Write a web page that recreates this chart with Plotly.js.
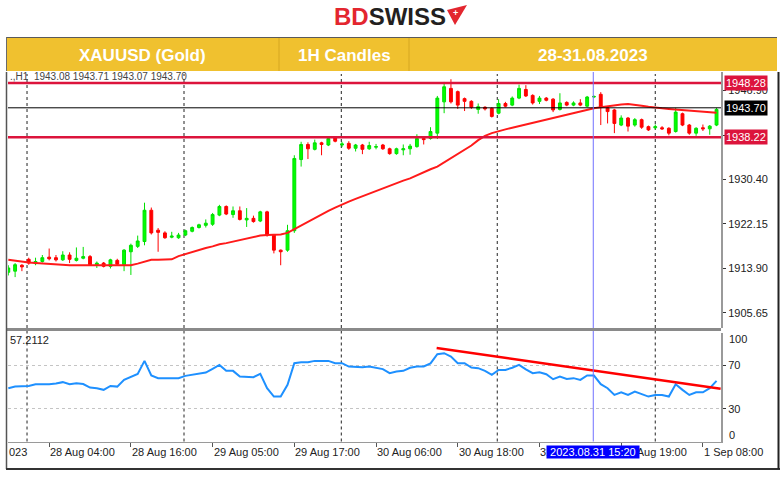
<!DOCTYPE html>
<html><head><meta charset="utf-8">
<script src="https://cdn.plot.ly/plotly-3.0.1.min.js"></script>
<style>html,body{margin:0;padding:0;background:#fff}#chart{width:780px;height:477px}</style>
</head><body><div id="chart"></div>
<script>
// ---------- DATA ----------
const open  = [1913.2,1913.4,1914.5,1915.6,1914.8,1915.2,1916.0,1915.9,1915.5,1916.4,1915.4,1915.8,1916.1,1914.6,1914.9,1914.3,1915.4,1914.6,1917.0,1918.0,1918.9,1924.7,1921.0,1920.5,1919.7,1919.6,1920.1,1920.8,1921.5,1921.9,1922.1,1923.8,1925.4,1923.9,1924.6,1922.9,1923.2,1922.7,1924.4,1920.1,1917.3,1917.3,1920.9,1934.1,1936.9,1936.0,1937.2,1936.8,1938.1,1936.8,1937.1,1936.2,1936.8,1936.1,1936.4,1936.8,1936.1,1935.2,1935.9,1936.1,1936.5,1938.0,1938.0,1939.0,1944.8,1947.3,1946.7,1945.4,1944.9,1943.4,1943.8,1943.6,1942.7,1944.5,1944.2,1945.5,1947.1,1946.0,1944.9,1945.5,1945.3,1943.4,1944.7,1944.2,1944.6,1944.0,1945.7,1946.2,1943.7,1943.3,1940.5,1941.8,1940.5,1941.5,1940.2,1940.0,1940.0,1939.9,1939.3,1942.6,1940.5,1939.0,1940.0,1939.8,1940.5];
const high  = [1914.5,1914.9,1914.7,1915.9,1915.9,1916.4,1917.6,1916.4,1917.1,1916.9,1917.8,1917.9,1916.4,1915.2,1915.1,1915.7,1915.7,1917.5,1918.5,1920.0,1926.1,1925.2,1921.4,1920.8,1920.7,1920.5,1921.1,1921.7,1922.2,1923.0,1924.2,1925.7,1925.6,1925.4,1925.4,1925.1,1923.7,1924.6,1924.6,1920.3,1917.4,1922.0,1934.9,1937.4,1937.3,1937.8,1937.4,1938.4,1938.4,1937.4,1937.5,1937.0,1937.0,1937.4,1937.0,1937.0,1936.3,1936.3,1936.9,1937.0,1938.8,1938.3,1940.1,1945.9,1948.5,1949.0,1946.9,1945.6,1945.1,1944.5,1944.0,1943.8,1945.3,1944.8,1945.8,1948.0,1947.9,1946.2,1945.9,1945.7,1945.5,1946.4,1944.9,1944.9,1945.3,1945.9,1946.0,1946.6,1943.9,1943.5,1942.3,1942.0,1941.8,1941.7,1940.4,1940.6,1940.3,1940.1,1943.7,1942.8,1940.7,1940.1,1940.6,1940.5,1943.7];
const low   = [1912.6,1912.3,1913.4,1914.6,1914.5,1915.0,1915.4,1915.2,1915.3,1914.9,1915.2,1915.6,1914.4,1914.0,1914.1,1913.9,1914.5,1913.4,1912.7,1917.7,1918.2,1920.2,1917.0,1919.4,1919.5,1919.4,1919.9,1920.6,1921.3,1921.5,1921.8,1923.6,1923.8,1923.3,1922.8,1921.6,1922.4,1922.5,1919.8,1916.7,1914.5,1917.0,1920.5,1932.8,1934.2,1935.8,1934.9,1936.6,1937.3,1936.4,1935.9,1935.6,1935.1,1935.9,1936.0,1935.9,1935.0,1935.0,1934.9,1935.0,1936.3,1936.9,1937.8,1937.9,1942.7,1944.5,1943.5,1943.1,1943.5,1942.6,1943.2,1941.9,1942.5,1943.8,1944.0,1945.3,1945.7,1944.3,1944.4,1944.9,1942.9,1943.2,1944.0,1944.0,1944.0,1943.8,1945.5,1940.5,1940.8,1939.0,1940.3,1939.3,1940.2,1939.8,1939.4,1939.7,1939.6,1938.6,1939.1,1940.3,1938.7,1938.5,1939.4,1938.7,1940.3];
const close = [1914.0,1914.6,1914.2,1914.9,1915.2,1915.9,1915.7,1915.5,1916.4,1915.6,1915.8,1916.1,1914.6,1914.9,1914.3,1915.5,1914.7,1917.3,1918.2,1919.0,1924.7,1920.5,1920.6,1919.6,1919.9,1920.1,1920.9,1921.5,1922.0,1922.3,1923.9,1925.4,1924.0,1924.6,1923.0,1923.2,1922.6,1924.4,1920.1,1917.3,1917.0,1920.9,1934.3,1936.9,1936.1,1937.2,1936.9,1938.0,1937.5,1937.0,1936.2,1936.8,1936.0,1936.7,1936.5,1936.1,1935.2,1936.1,1936.1,1936.6,1938.0,1937.8,1939.3,1945.5,1947.6,1944.8,1944.2,1944.9,1943.8,1943.9,1943.5,1942.1,1944.5,1944.0,1945.5,1947.3,1945.9,1944.6,1945.5,1945.1,1943.3,1944.6,1944.2,1944.6,1944.2,1945.7,1945.8,1943.9,1943.0,1940.8,1941.8,1940.3,1941.5,1940.1,1939.6,1940.2,1939.8,1939.0,1942.9,1940.5,1939.0,1939.9,1939.8,1940.3,1943.4];
const maValues = [1915.5,1915.3,1915.1,1915.0,1914.9,1914.8,1914.7,1914.6,1914.5,1914.5,1914.5,1914.5,1914.4,1914.4,1914.4,1914.4,1914.4,1914.5,1914.5,1914.8,1915.2,1915.5,1915.5,1915.6,1915.6,1916.2,1916.6,1917.0,1917.3,1917.7,1918.0,1918.4,1918.6,1918.9,1919.2,1919.5,1919.8,1920.0,1920.1,1920.1,1920.2,1920.5,1921.2,1921.9,1922.6,1923.2,1923.9,1924.6,1925.2,1925.8,1926.3,1926.8,1927.3,1927.8,1928.3,1928.7,1929.2,1929.7,1930.2,1930.6,1931.2,1931.8,1932.3,1932.8,1933.6,1934.4,1935.2,1936.0,1936.7,1937.7,1938.5,1939.0,1939.4,1939.7,1940.0,1940.3,1940.6,1940.9,1941.2,1941.6,1941.9,1942.2,1942.5,1942.8,1943.0,1943.3,1943.6,1943.8,1944.0,1944.2,1944.3,1944.4,1944.3,1944.1,1943.9,1943.7,1943.6,1943.5,1943.4,1943.2,1943.1,1943.0,1942.9,1942.8,1942.8];
const rsiValues = [49.1,50.6,51.0,51.2,52.8,52.8,52.8,53.5,54.7,52.8,53.7,53.0,49.7,49.0,47.6,51.2,50.6,56.8,59.8,62.3,74.3,60.8,58.4,58.4,58.4,58.4,60.5,61.5,63.0,63.5,67.0,70.6,65.1,65.1,59.8,59.8,59.3,62.3,49.1,41.4,41.4,52.2,72.2,73.1,73.1,74.3,74.3,74.3,72.2,72.2,69.1,68.5,68.5,69.1,68.0,66.7,63.0,64.5,65.1,68.0,69.1,69.1,72.0,80.5,81.4,78.3,72.2,72.2,68.1,67.6,65.1,61.4,66.0,66.0,68.0,70.6,66.5,63.0,63.9,62.0,57.4,59.8,57.7,58.4,56.8,60.8,60.8,52.8,49.1,42.9,45.4,42.9,46.0,43.6,41.4,42.9,42.9,41.4,52.8,47.6,42.9,45.4,45.4,49.1,55.9];
const rsiTrendBars = [62.9, 104.6];
const rsiTrendValues = [86.1, 48.6];
const levelPrices = [1948.28, 1938.22];
const currentPrice = 1943.70;
const priceTicks = [1905.65, 1913.90, 1922.15, 1930.40, 1938.65, 1946.90];
const hiddenPriceTicks = [1938.65];   // covered by the level box in the reference
const rsiTicks = [30, 70];
const timeTickBars = [6, 18, 30, 42, 54, 66, 78, 90, 102];
const timeTickLabels = ["28 Aug 04:00","28 Aug 16:00","29 Aug 05:00","29 Aug 17:00","30 Aug 06:00","30 Aug 18:00","31 Aug 07:00","31 Aug 19:00","1 Sep 08:00"];
const gridBars = [2.75, 25.8, 48.9, 71.8, 95.0];
const cursorBar = 85.9;
const cursorLabel = "2023.08.31 15:20";
const rsiLastLabel = "57.2112";
const headerLine = ".,H1  1943.08 1943.71 1943.07 1943.70";
const bannerCells = ["XAUUSD (Gold)", "1H Candles", "28-31.08.2023"];

// ---------- LAYOUT HELPERS ----------
const W = 780, H = 477;
const PX = x => x / W;
const PY = y => 1 - y / H;
const FONT = "Liberation Sans, Arial, sans-serif";
const mainTop = 72, mainBot = 328, rsiTop = 333, rsiBot = 441.5, plotL = 8, plotR = 721;
const bars = open.map((_, i) => i);

const data = [
  {type:'candlestick', x: bars, open, high, low, close, xaxis:'x', yaxis:'y',
   increasing:{line:{color:'#00e000', width:1}, fillcolor:'#00ff00'},
   decreasing:{line:{color:'#ff0000', width:1}, fillcolor:'#ff0000'},
   whiskerwidth:0, hoverinfo:'skip'},
  {type:'scatter', mode:'lines', x: bars, y: maValues, xaxis:'x', yaxis:'y',
   line:{color:'#ff1a1a', width:2}, hoverinfo:'skip'},
  {type:'scatter', mode:'lines', x: bars, y: rsiValues, xaxis:'x2', yaxis:'y2',
   line:{color:'#1e90ff', width:2}, hoverinfo:'skip'},
  {type:'scatter', mode:'lines', x: rsiTrendBars, y: rsiTrendValues, xaxis:'x2', yaxis:'y2',
   line:{color:'#ff0000', width:2.5}, cliponaxis:false, hoverinfo:'skip'}
];

const shapes = [];
// banner
shapes.push({type:'rect', xref:'paper', yref:'paper', x0:PX(6), x1:PX(777), y0:PY(71), y1:PY(37), fillcolor:'#F0C12F', line:{width:0}});
shapes.push({type:'line', xref:'paper', yref:'paper', x0:PX(6), x1:PX(777), y0:PY(37.5), y1:PY(37.5), line:{color:'#5a5a5a', width:1}});
shapes.push({type:'line', xref:'paper', yref:'paper', x0:PX(6.5), x1:PX(6.5), y0:PY(71), y1:PY(37), line:{color:'#6a6a6a', width:1}});
[279, 409].forEach(x => shapes.push({type:'line', xref:'paper', yref:'paper', x0:PX(x), x1:PX(x), y0:PY(71), y1:PY(38), line:{color:'#D6A722', width:1}}));
// logo icon
const P = (x, y) => PX(x) + ',' + PY(y);
shapes.push({type:'path', xref:'paper', yref:'paper', path:'M' + P(447, 10) + ' L' + P(467, 5) + ' L' + P(455, 25) + ' Z', fillcolor:'#E3262F', line:{width:0}});
// vertical dotted grid (both panes)
gridBars.forEach(g => {
  shapes.push({type:'line', xref:'x', yref:'paper', x0:g, x1:g, y0:PY(mainBot), y1:PY(mainTop+2), line:{color:'#222', width:1, dash:'dot'}, layer:'below'});
  shapes.push({type:'line', xref:'x', yref:'paper', x0:g, x1:g, y0:PY(rsiBot), y1:PY(331), line:{color:'#222', width:1, dash:'dot'}, layer:'below'});
});
// level lines
levelPrices.forEach(p => shapes.push({type:'line', xref:'paper', yref:'y', x0:PX(plotL), x1:PX(plotR), y0:p, y1:p, line:{color:'#DC143C', width:2.5}}));
shapes.push({type:'line', xref:'paper', yref:'y', x0:PX(plotL), x1:PX(plotR), y0:currentPrice, y1:currentPrice, line:{color:'#000', width:1}});
// cursor line
shapes.push({type:'line', xref:'x', yref:'paper', x0:cursorBar, x1:cursorBar, y0:PY(rsiBot), y1:PY(mainTop), line:{color:'#7070ff', width:1}});
// pane separator
shapes.push({type:'rect', xref:'paper', yref:'paper', x0:PX(6), x1:PX(plotR), y0:PY(331), y1:PY(328), fillcolor:'#8a8a8a', line:{width:0}});
// frame
shapes.push({type:'line', xref:'paper', yref:'paper', x0:PX(6.5), x1:PX(6.5), y0:PY(469), y1:PY(72), line:{color:'#555', width:1.5}});
shapes.push({type:'line', xref:'paper', yref:'paper', x0:PX(6), x1:PX(780), y0:PY(469), y1:PY(469), line:{color:'#333', width:2}});
shapes.push({type:'line', xref:'paper', yref:'paper', x0:PX(778.5), x1:PX(778.5), y0:PY(469), y1:PY(72), line:{color:'#222', width:2}});

const annotations = [];
// logo text
annotations.push({xref:'paper', yref:'paper', x:PX(390), y:PY(16.5), xanchor:'center', yanchor:'middle', showarrow:false,
  text:'<b><span style="color:#E3262F">BD</span><span style="color:#231F20">SWISS</span></b>', font:{family:FONT, size:24}});
annotations.push({xref:'paper', yref:'paper', x:PX(455), y:PY(13), xanchor:'center', yanchor:'middle', showarrow:false,
  text:'<b>+</b>', font:{family:FONT, size:9, color:'#fff'}});
// banner texts
const cellCenters = [142, 344, 593];
bannerCells.forEach((t, k) => annotations.push({xref:'paper', yref:'paper', x:PX(cellCenters[k]), y:PY(55), xanchor:'center', yanchor:'middle', showarrow:false,
  text:'<b>' + t + '</b>', font:{family:FONT, size:17, color:'#fff'}}));
// header line
annotations.push({xref:'paper', yref:'paper', x:PX(8), y:PY(76), xanchor:'left', yanchor:'middle', showarrow:false,
  text:headerLine, font:{family:FONT, size:10, color:'#444'}});
// price level boxes
const boxes = [[levelPrices[0], '#DC143C'], [currentPrice, '#000000'], [levelPrices[1], '#DC143C']];
boxes.forEach(([p, c]) => annotations.push({xref:'paper', yref:'y', x:PX(724), y:p, xanchor:'left', yanchor:'middle', showarrow:false,
  text:p.toFixed(2), bgcolor:c, borderpad:1, font:{family:FONT, size:11, color:'#fff'}}));
// rsi labels
annotations.push({xref:'paper', yref:'paper', x:PX(8), y:PY(340), xanchor:'left', yanchor:'middle', showarrow:false,
  text:rsiLastLabel, font:{family:FONT, size:11, color:'#222'}});
[['100', 339], ['0', 435]].forEach(([t, y]) => annotations.push({xref:'paper', yref:'paper', x:PX(727), y:PY(y), xanchor:'left', yanchor:'middle', showarrow:false,
  text:t, font:{family:FONT, size:11, color:'#222'}}));
// time labels
annotations.push({xref:'paper', yref:'paper', x:PX(7), y:PY(452), xanchor:'left', yanchor:'middle', showarrow:false,
  text:'023', font:{family:FONT, size:11, color:'#222'}});
timeTickBars.forEach((b, k) => annotations.push({xref:'x2', yref:'paper', x:b, y:PY(452), xanchor:'left', yanchor:'middle', showarrow:false, xshift:-1,
  text:timeTickLabels[k], font:{family:FONT, size:11, color:'#222'}}));
annotations.push({xref:'x2', yref:'paper', x:cursorBar, y:PY(452), xanchor:'center', yanchor:'middle', showarrow:false,
  text:'\u00a0' + cursorLabel + '\u00a0', bgcolor:'#0000ff', borderpad:0, font:{family:FONT, size:11, color:'#fff'}});

const xr = [(plotL - 8.3) / 6.81, (plotR - 8.3) / 6.81];
const layout = {
  width:W, height:H, margin:{l:0, r:0, t:0, b:0},
  paper_bgcolor:'#fff', plot_bgcolor:'#fff', showlegend:false,
  font:{family:FONT, size:11, color:'#222'},
  boxgap:0.4,
  xaxis:{domain:[PX(plotL), PX(plotR)], anchor:'y', range:xr, showticklabels:false, showgrid:false, zeroline:false,
         rangeslider:{visible:false}, ticks:'', showline:false, fixedrange:true},
  yaxis:{domain:[PY(mainBot), PY(mainTop)], anchor:'x', range:[1902.86, 1950.34], side:'right',
         tickvals:priceTicks, ticktext:priceTicks.map(v => hiddenPriceTicks.includes(v) ? '' : v.toFixed(2)),
         ticks:'outside', ticklen:3, tickcolor:'#333',
         showline:true, linecolor:'#9a9a9a', linewidth:2, showgrid:false, zeroline:false,
         tickfont:{family:FONT, size:11, color:'#222'}, fixedrange:true},
  xaxis2:{domain:[PX(plotL), PX(plotR)], anchor:'y2', matches:'x', range:xr, showticklabels:false, showgrid:false, zeroline:false,
          tickvals:timeTickBars, ticks:'outside', ticklen:4, tickcolor:'#555',
          showline:true, linecolor:'#9a9a9a', linewidth:1.5, rangeslider:{visible:false}, fixedrange:true},
  yaxis2:{domain:[PY(rsiBot), PY(rsiTop)], anchor:'x2', range:[0, 100], side:'right',
          tickvals:rsiTicks, ticktext:rsiTicks.map(String), ticks:'outside', ticklen:3, tickcolor:'#333',
          showline:true, linecolor:'#9a9a9a', linewidth:2, showgrid:true, gridcolor:'#c4c4c4', griddash:'dot', zeroline:false,
          tickfont:{family:FONT, size:11, color:'#222'}, fixedrange:true},
  shapes, annotations
};
Plotly.newPlot('chart', data, layout, {staticPlot:true, displayModeBar:false});
</script></body></html>
